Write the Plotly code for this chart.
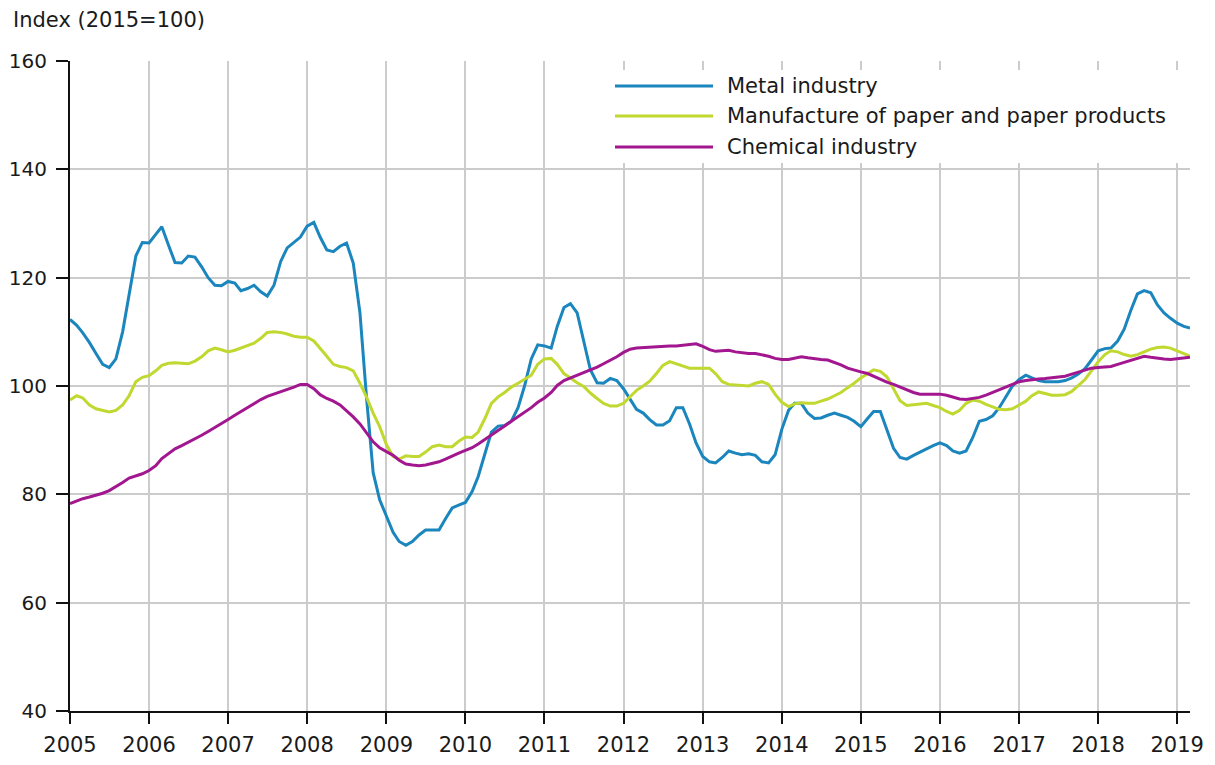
import pandas as pd
import plotly.graph_objects as go

# Monthly data, 2005M01 - 2019M03
months = pd.date_range("2005-01-01", "2019-03-01", freq="MS")

metal_industry = [
    112.3, 111.2, 109.8, 108.0, 106.0, 104.0, 103.4, 105.0, 110.0, 117.0, 124.0, 126.5,
    126.4, 128.0, 129.4, 126.0, 122.8, 122.7, 124.0, 123.8, 122.0, 120.0, 118.6, 118.5,
    119.3, 119.0, 117.6, 118.0, 118.6, 117.4, 116.6, 118.6, 123.0, 125.5, 126.5, 127.5,
    129.5, 130.2, 127.5, 125.1, 124.8, 125.8, 126.4, 122.7, 113.5, 98.0, 84.0, 79.0,
    76.0, 73.0, 71.3, 70.6, 71.3, 72.5, 73.4, 73.4, 73.4, 75.5, 77.5, 78.0,
    78.5, 80.5, 83.3, 87.5, 91.5, 92.6, 92.7, 93.5, 96.0, 100.0, 105.0, 107.6,
    107.4, 107.0, 111.0, 114.5, 115.2, 113.5, 108.5, 103.0, 100.6, 100.5, 101.4, 101.0,
    99.5, 97.5, 95.7, 95.0, 93.8, 92.8, 92.8, 93.6, 96.0, 96.0, 93.0, 89.5,
    87.0, 86.0, 85.8, 86.8, 88.0, 87.6, 87.3, 87.5, 87.2, 86.0, 85.8, 87.3,
    92.0, 95.5, 96.8, 96.8, 95.0, 94.0, 94.1, 94.6, 95.0, 94.6, 94.2, 93.5,
    92.5, 94.0, 95.3, 95.3, 92.0, 88.5, 86.8, 86.5, 87.2, 87.8, 88.5, 89.0,
    89.5, 89.0, 88.0, 87.6, 88.0, 90.5, 93.5, 93.8, 94.5, 96.0, 98.0, 100.0,
    101.2, 102.0, 101.5, 101.0, 100.8, 100.8, 100.8, 101.0, 101.5, 102.2, 103.2, 104.8,
    106.5, 106.9, 107.0, 108.3, 110.5, 114.0, 117.0, 117.6, 117.2, 115.0, 113.5, 112.5,
    111.6, 111.0, 110.7,
]

paper_products = [
    97.4, 98.2, 97.8, 96.5, 95.8, 95.5, 95.2, 95.5, 96.5, 98.2, 100.8, 101.6,
    101.9, 102.8, 103.8, 104.2, 104.3, 104.2, 104.1, 104.6, 105.4, 106.5, 107.0, 106.7,
    106.3, 106.6, 107.0, 107.4, 107.9, 108.8, 109.9, 110.0, 109.9, 109.6, 109.2, 109.0,
    109.0, 108.3, 107.0, 105.5, 104.0, 103.6, 103.4, 102.8, 100.5, 98.0, 95.0, 92.5,
    89.2, 87.0, 86.5, 87.1, 87.0, 87.0, 87.8, 88.8, 89.1, 88.8, 88.8, 89.8,
    90.6, 90.5, 91.5, 94.0, 96.8, 98.0, 98.8, 99.8, 100.5, 101.2, 102.0, 104.0,
    105.0, 105.1, 104.0, 102.3, 101.4, 100.6, 99.9, 98.7, 97.7, 96.8, 96.3, 96.3,
    96.8, 98.0, 99.2, 100.0, 100.9, 102.3, 103.8, 104.5, 104.1, 103.6, 103.3, 103.3,
    103.3, 103.3, 102.3, 100.8, 100.3, 100.2, 100.0, 100.0, 100.5, 100.8, 100.3, 98.5,
    97.0, 96.2, 96.7, 96.9, 96.8, 96.8, 97.2, 97.6, 98.2, 98.8, 99.7, 100.5,
    101.5, 102.3, 103.0, 102.7, 101.7, 99.5, 97.3, 96.4, 96.5, 96.7, 96.8, 96.4,
    96.0, 95.3, 94.8, 95.5, 96.8, 97.4, 97.2, 96.6, 96.1, 95.7, 95.6, 95.8,
    96.5, 97.2, 98.2, 98.9, 98.6, 98.3, 98.3, 98.4, 99.0, 100.0, 101.2, 102.8,
    104.5, 105.8, 106.5, 106.3, 105.8, 105.5, 105.8, 106.3, 106.8, 107.1, 107.2, 107.0,
    106.5, 106.0, 105.5,
]

chemical_industry = [
    78.3, 78.8, 79.2, 79.5, 79.8, 80.2, 80.7, 81.4, 82.2, 83.0, 83.4, 83.8,
    84.4, 85.3, 86.6, 87.6, 88.4, 89.0, 89.6, 90.3, 90.9, 91.6, 92.3, 93.0,
    93.8, 94.6, 95.3, 96.0, 96.8, 97.5, 98.1, 98.5, 98.9, 99.3, 99.8, 100.3,
    100.3, 99.5, 98.4, 97.7, 97.2, 96.5, 95.5, 94.3, 93.0, 91.3, 89.7, 88.6,
    87.9, 87.2, 86.3, 85.6, 85.4, 85.3, 85.4, 85.7, 86.0, 86.5, 87.1, 87.6,
    88.1, 88.6, 89.3, 90.1, 91.0, 91.8, 92.6, 93.5, 94.3, 95.2, 96.0, 97.0,
    97.8, 98.8, 100.1, 101.0, 101.5, 101.9, 102.4, 103.0, 103.5, 104.1, 104.7, 105.4,
    106.2, 106.8, 107.0, 107.1, 107.2, 107.3, 107.4, 107.4, 107.4, 107.5, 107.7, 107.8,
    107.3, 106.7, 106.4, 106.5, 106.6, 106.3, 106.1, 106.0, 106.0, 105.8, 105.5, 105.1,
    104.9, 104.9, 105.2, 105.4, 105.2, 105.0, 104.9, 104.8, 104.4, 103.9, 103.3, 102.9,
    102.6, 102.3, 101.8, 101.2, 100.7, 100.3, 99.8, 99.3, 98.8, 98.5, 98.5, 98.5,
    98.5, 98.3, 98.0, 97.6, 97.5, 97.7, 97.9, 98.3, 98.8, 99.4, 99.9, 100.4,
    100.8, 101.0, 101.2, 101.3, 101.4, 101.5, 101.6, 101.8, 102.2, 102.6, 103.0, 103.3,
    103.4, 103.5, 103.6, 104.0, 104.4, 104.8, 105.2, 105.5, 105.3, 105.1, 105.0, 104.9,
    105.0, 105.2, 105.3,
]

series_names = ["Metal industry", "Manufacture of paper and paper products", "Chemical industry"]
series_values = [metal_industry, paper_products, chemical_industry]
series_colors = ["#1a86bd", "#c0d82f", "#a2178f"]

year_ticks = pd.date_range("2005-01-01", "2019-01-01", freq="YS")
year_labels = [str(d.year) for d in year_ticks]

FONT = "DejaVu Sans, Verdana, sans-serif"
TXT = "#1a1a1a"

fig = go.Figure()
for name, vals, col in zip(series_names, series_values, series_colors):
    fig.add_trace(go.Scatter(
        x=months, y=vals, name=name, mode="lines",
        line=dict(color=col, width=3), showlegend=False,
    ))

# page has a small body offset; plot area in page coords: x 70-1190, y 61-711
fig.update_layout(
    width=1215, height=765,
    margin=dict(l=62, r=33, t=53, b=62),
    paper_bgcolor="white", plot_bgcolor="white",
    font=dict(family=FONT, size=21, color=TXT),
)
fig.update_xaxes(
    range=[months[0], months[-1]],
    tickvals=year_ticks, ticktext=year_labels,
    showgrid=True, gridcolor="#cccccc", gridwidth=1.5,
    showline=True, linecolor="#111", linewidth=2,
    ticks="outside", ticklen=11, tickwidth=2, tickcolor="#111",
    ticklabelstandoff=3, automargin=False,
    tickfont=dict(size=21, color=TXT),
)
fig.update_yaxes(
    range=[40, 160], dtick=20, tick0=40,
    showgrid=True, gridcolor="#cccccc", gridwidth=1.5,
    showline=True, linecolor="#111", linewidth=2,
    ticks="outside", ticklen=12, tickwidth=2, tickcolor="#111",
    ticklabelstandoff=5, automargin=False,
    tickfont=dict(size=20, color=TXT), zeroline=False,
)

W, H = 1120.0, 650.0
def px(xp):
    return (xp - 70) / W
def py(yp):
    return 1 - (yp - 61) / H

# Axis title
fig.add_annotation(
    text="Index (2015=100)", xref="paper", yref="paper",
    x=px(11), y=py(20), xanchor="left", yanchor="middle",
    showarrow=False, font=dict(size=21, color=TXT),
)

# Manual legend with long line samples
fig.add_shape(type="rect", xref="paper", yref="paper",
              x0=px(603), x1=px(1187), y0=py(70), y1=py(163),
              fillcolor="white", line=dict(width=0), layer="above")
legend_y = [86, 116, 147]
for name, col, yy in zip(series_names, series_colors, legend_y):
    fig.add_shape(type="line", xref="paper", yref="paper",
                  x0=px(615), x1=px(713), y0=py(yy), y1=py(yy),
                  line=dict(color=col, width=3), layer="above")
    fig.add_annotation(text=name, xref="paper", yref="paper",
                       x=px(725), y=py(yy), xanchor="left", yanchor="middle",
                       showarrow=False, font=dict(size=21, color=TXT))

fig.write_html("out.html")
